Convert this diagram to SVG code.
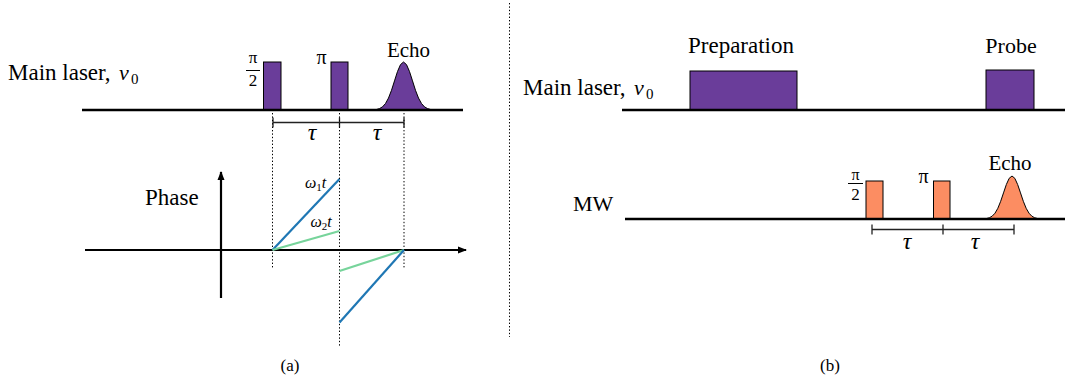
<svg xmlns="http://www.w3.org/2000/svg" width="1065" height="383" viewBox="0 0 1065 383">
<style>
.base{stroke:#000;stroke-width:2.6;fill:none}
.ax{stroke:#000;stroke-width:2.2;fill:none}
.dot{stroke:#000;stroke-width:1;stroke-dasharray:1.4 2;fill:none}
.br{stroke:#222;stroke-width:1.3;fill:none}
.pur{fill:#6a3d9a;stroke:#000;stroke-width:1}
.ora{fill:#fc8d62;stroke:#000;stroke-width:1}
.blue{stroke:#1f77b4;stroke-width:2.2;fill:none}
.green{stroke:#77d49b;stroke-width:2.2;fill:none}
</style>
<defs>
<marker id="arr" markerUnits="userSpaceOnUse" markerWidth="10" markerHeight="8" refX="8" refY="4" orient="auto">
<path d="M0,0.5 L9,4 L0,7.5 z" fill="#000"/>
</marker>
<path id="gauss" d="M-3.333,-0.004 L-3,-0.011 L-2.667,-0.029 L-2.333,-0.066 L-2,-0.135 L-1.667,-0.249 L-1.333,-0.411 L-1,-0.607 L-0.667,-0.801 L-0.333,-0.946 L0,-1 L0.333,-0.946 L0.667,-0.801 L1,-0.607 L1.333,-0.411 L1.667,-0.249 L2,-0.135 L2.333,-0.066 L2.667,-0.029 L3,-0.011 L3.333,-0.004 Z" vector-effect="non-scaling-stroke"/>
</defs>

<line class="dot" x1="509.5" y1="3" x2="509.5" y2="337"/>

<g id="a-main-laser-label">
<text font-family="Liberation Serif" font-size="23" x="8" y="80">Main laser,</text>
<text font-family="Liberation Serif" font-size="22" font-style="italic" x="119" y="80">ν</text>
<text font-family="Liberation Serif" x="131" y="84" font-size="15">0</text>
</g>
<g id="a-pi2-pulse">
<rect class="pur" x="263.5" y="62" width="17.5" height="48"/>
<text font-family="Liberation Serif" x="253" y="62.5" font-size="17" text-anchor="middle">π</text>
<line x1="246" y1="70.5" x2="260" y2="70.5" stroke="#000" stroke-width="1"/>
<text font-family="Liberation Serif" x="253" y="85.5" font-size="17" text-anchor="middle">2</text>
</g>
<g id="a-pi-pulse">
<rect class="pur" x="331" y="62" width="17" height="48"/>
<text font-family="Liberation Serif" x="321.5" y="64" font-size="20" text-anchor="middle">π</text>
</g>
<g id="a-echo">
<use href="#gauss" class="pur" transform="translate(403.5,110) scale(9,48)"/>
<text font-family="Liberation Serif" font-size="21" x="408.5" y="56.5" text-anchor="middle">Echo</text>
</g>
<line id="a-main-laser-line" class="base" x1="82" y1="110" x2="463" y2="110"/>
<g id="a-tau-bracket">
<path class="br" d="M273,122.5 H404 M273,117.5 V127.5 M339.5,117.5 V127.5 M404,117.5 V127.5"/>
<text font-family="Liberation Serif" font-style="italic" x="312" y="140" font-size="24" text-anchor="middle">τ</text>
<text font-family="Liberation Serif" font-style="italic" x="377" y="140" font-size="24" text-anchor="middle">τ</text>
</g>
<g id="a-phase-axes">
<line class="ax" x1="85" y1="250" x2="466" y2="250" marker-end="url(#arr)"/>
<line class="ax" x1="221" y1="298" x2="221" y2="172" marker-end="url(#arr)"/>
<text font-family="Liberation Serif" font-size="23" x="145" y="205">Phase</text>
</g>
<g id="connectors">
<line class="dot" x1="272.5" y1="113" x2="272.5" y2="268"/>
<line class="dot" x1="339.5" y1="113" x2="339.5" y2="346"/>
<line class="dot" x1="404" y1="113" x2="404" y2="268"/>
<line class="blue" x1="272.5" y1="250" x2="339.5" y2="179"/>
<line class="green" x1="272.5" y1="250" x2="339.5" y2="231"/>
<line class="green" x1="339.5" y1="271" x2="404" y2="250"/>
<line class="blue" x1="339.5" y1="322.5" x2="404" y2="250"/>
</g>
<g id="a-omega-labels">
<text font-family="Liberation Serif" x="305" y="188" font-size="16"><tspan font-style="italic">ω</tspan><tspan font-size="11" dy="3">1</tspan><tspan font-style="italic" dy="-3">t</tspan></text>
<text font-family="Liberation Serif" x="310.5" y="227" font-size="16"><tspan font-style="italic">ω</tspan><tspan font-size="11" dy="3">2</tspan><tspan font-style="italic" dy="-3">t</tspan></text>
</g>
<text font-family="Liberation Serif" id="caption-a" x="290" y="371" font-size="17" text-anchor="middle">(a)</text>

<g id="b-main-laser-label">
<text font-family="Liberation Serif" font-size="23" x="523" y="95">Main laser,</text>
<text font-family="Liberation Serif" font-size="22" font-style="italic" x="634" y="95">ν</text>
<text font-family="Liberation Serif" x="646" y="99" font-size="15">0</text>
</g>
<g id="b-preparation">
<rect class="pur" x="690" y="71" width="107" height="39"/>
<text font-family="Liberation Serif" font-size="23" x="741" y="53" text-anchor="middle">Preparation</text>
</g>
<g id="b-probe">
<rect class="pur" x="986" y="70" width="48" height="40"/>
<text font-family="Liberation Serif" font-size="22" x="1011" y="53" text-anchor="middle">Probe</text>
</g>
<line id="b-main-laser-line" class="base" x1="622" y1="110" x2="1065" y2="110"/>
<g id="b-mw-label">
<text font-family="Liberation Serif" font-size="22" x="573" y="211">MW</text>
</g>
<g id="b-pi2-pulse">
<rect class="ora" x="866" y="181" width="17" height="38"/>
<text font-family="Liberation Serif" x="855.5" y="180" font-size="16" text-anchor="middle">π</text>
<line x1="848" y1="183.5" x2="863" y2="183.5" stroke="#000" stroke-width="1"/>
<text font-family="Liberation Serif" x="855.5" y="200" font-size="17" text-anchor="middle">2</text>
</g>
<g id="b-pi-pulse">
<rect class="ora" x="933.5" y="181" width="16.5" height="38"/>
<text font-family="Liberation Serif" x="923.5" y="182.5" font-size="20" text-anchor="middle">π</text>
</g>
<g id="b-echo">
<use href="#gauss" class="ora" transform="translate(1012,219) scale(8.5,43)"/>
<text font-family="Liberation Serif" font-size="21" x="1010" y="170" text-anchor="middle">Echo</text>
</g>
<line id="b-mw-line" class="base" x1="625" y1="219" x2="1065" y2="219"/>
<g id="b-tau-bracket">
<path class="br" d="M872,229.5 H1014 M872,224.5 V234.5 M943,224.5 V234.5 M1014,224.5 V234.5"/>
<text font-family="Liberation Serif" font-style="italic" x="907" y="249" font-size="24" text-anchor="middle">τ</text>
<text font-family="Liberation Serif" font-style="italic" x="975" y="249" font-size="24" text-anchor="middle">τ</text>
</g>
<text font-family="Liberation Serif" id="caption-b" x="830" y="371" font-size="17" text-anchor="middle">(b)</text>
</svg>
